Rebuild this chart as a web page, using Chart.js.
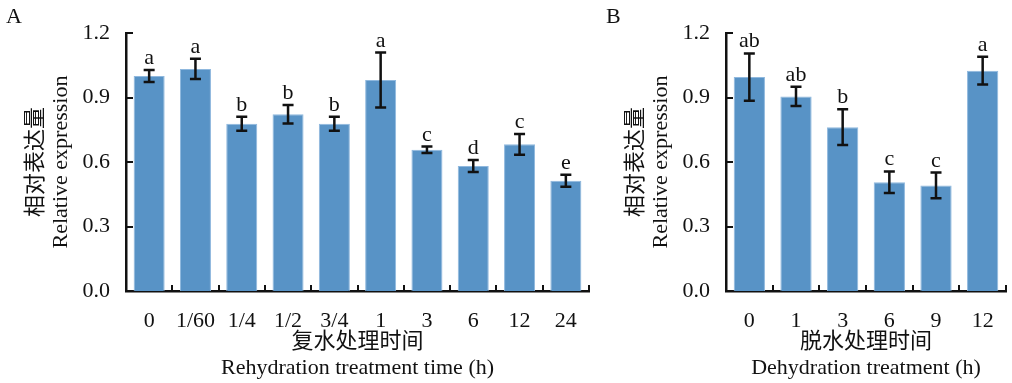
<!DOCTYPE html>
<html><head><meta charset="utf-8">
<script src="https://cdn.jsdelivr.net/npm/chart.js@4/dist/chart.umd.min.js"></script>
<style>
html,body{margin:0;padding:0;background:#fff;width:1012px;height:383px;overflow:hidden;}
.wrap{position:absolute;top:0;height:383px;}
#wa{left:0;width:600px;}
#wb{left:600px;width:412px;}
</style></head><body>
<div class="wrap" id="wa"><canvas id="ca"></canvas></div>
<div class="wrap" id="wb"><canvas id="cb"></canvas></div>
<script>
const categoriesA = ['0','1/60','1/4','1/2','3/4','1','3','6','12','24'];
const valuesA = [1.00, 1.033, 0.778, 0.822, 0.778, 0.981, 0.657, 0.581, 0.682, 0.513];
const errorsA = [0.028, 0.047, 0.033, 0.043, 0.033, 0.128, 0.015, 0.028, 0.048, 0.028];
const lettersA = ['a','a','b','b','b','a','c','d','c','e'];

const categoriesB = ['0','1','3','6','9','12'];
const valuesB = [0.995, 0.905, 0.762, 0.506, 0.491, 1.025];
const errorsB = [0.110, 0.045, 0.083, 0.050, 0.060, 0.065];
const lettersB = ['ab','ab','b','c','c','a'];

const yTicks = [0, 0.3, 0.6, 0.9, 1.2];
const yTitle = ['相对表达量', 'Relative expression'];
const xTitleA = ['复水处理时间', 'Rehydration treatment time (h)'];
const xTitleB = ['脱水处理时间', 'Dehydration treatment (h)'];

const FONT = "'Liberation Serif','Noto Sans CJK SC',serif";
const BAR = '#5893c6';
const INK = '#111';

function makeChart(id, cats, vals, errs, letters, xTitle, panel, padRight) {
  const extras = {
    id: 'extras',
    afterDraw(chart) {
      const ctx = chart.ctx;
      const x = chart.scales.x, y = chart.scales.y;
      const area = chart.chartArea;
      ctx.save();
      // inward tick marks
      ctx.strokeStyle = INK;
      ctx.lineWidth = 2;
      yTicks.forEach(v => {
        const py = Math.round(y.getPixelForValue(v)) ;
        ctx.beginPath(); ctx.moveTo(area.left, py); ctx.lineTo(area.left + 7, py); ctx.stroke();
      });
      for (let i = 0; i <= cats.length; i++) {
        const px = Math.round(x.getPixelForValue(i - 0.5));
        ctx.beginPath(); ctx.moveTo(px, area.bottom); ctx.lineTo(px, area.bottom - 6); ctx.stroke();
      }
      // error bars and letters
      ctx.lineWidth = 2.5;
      ctx.fillStyle = INK;
      ctx.font = '22px ' + FONT;
      ctx.textAlign = 'center';
      ctx.textBaseline = 'alphabetic';
      vals.forEach((v, i) => {
        const px = x.getPixelForValue(i);
        const top = y.getPixelForValue(v + errs[i]);
        const bot = y.getPixelForValue(v - errs[i]);
        ctx.beginPath();
        ctx.moveTo(px, top); ctx.lineTo(px, bot);
        ctx.moveTo(px - 5.5, top); ctx.lineTo(px + 5.5, top);
        ctx.moveTo(px - 5.5, bot); ctx.lineTo(px + 5.5, bot);
        ctx.stroke();
        ctx.fillText(letters[i], px, top - 6);
      });
      // panel letter
      ctx.textAlign = 'left';
      ctx.fillText(panel, 6, 23);
      ctx.restore();
    }
  };
  return new Chart(document.getElementById(id), {
    type: 'bar',
    data: {
      labels: cats,
      datasets: [{
        data: vals,
        backgroundColor: BAR,
        borderColor: '#8fb8de',
        borderWidth: 1,
        categoryPercentage: 1.0,
        barPercentage: 0.67
      }]
    },
    options: {
      responsive: true,
      maintainAspectRatio: false,
      animation: false,
      devicePixelRatio: 1,
      layout: { padding: { top: 33, left: 0, right: padRight, bottom: 0 } },
      plugins: { legend: { display: false }, tooltip: { enabled: false } },
      scales: {
        x: {
          z: 1,
          grid: { display: false },
          border: { display: true, color: INK, width: 2.5 },
          ticks: { color: INK, font: { family: FONT, size: 22 }, padding: 9, maxRotation: 0, autoSkip: false },
          title: { display: true, text: xTitle, color: INK, font: { family: FONT, size: 22, lineHeight: 1.15 }, padding: { top: 0, bottom: 2.4 } },
          afterFit(s) { s.height = 92; }
        },
        y: {
          z: 1,
          min: 0, max: 1.2,
          grid: { display: false },
          border: { display: true, color: INK, width: 2.5 },
          afterBuildTicks(s) { s.ticks = yTicks.map(v => ({ value: v })); },
          ticks: { color: INK, font: { family: FONT, size: 22 }, padding: 8, callback: v => Number(v).toFixed(1) },
          title: { display: true, text: yTitle, color: INK, font: { family: FONT, size: 22, lineHeight: 1.15 }, padding: { top: 23.4, bottom: 0 } },
          afterFit(s) { s.width = 126; }
        }
      }
    },
    plugins: [extras]
  });
}

makeChart('ca', categoriesA, valuesA, errorsA, lettersA, xTitleA, 'A', 11);
makeChart('cb', categoriesB, valuesB, errorsB, lettersB, xTitleB, 'B', 6);
</script>
</body></html>
